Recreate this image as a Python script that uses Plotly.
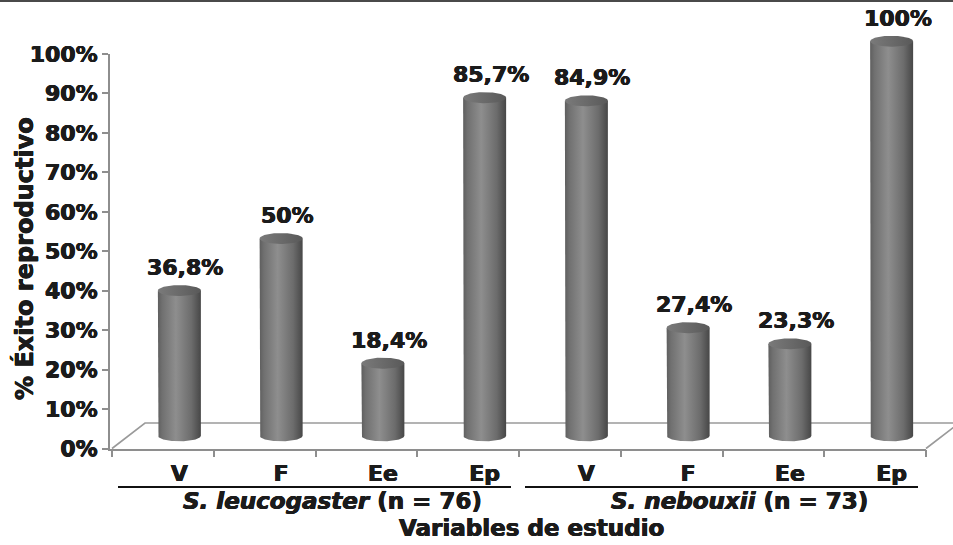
import numpy as np
import plotly.graph_objects as go

# ---- data ----
categories = ["V", "F", "Ee", "Ep", "V", "F", "Ee", "Ep"]
values = [36.8, 50, 18.4, 85.7, 84.9, 27.4, 23.3, 100]
value_labels = ["36,8%", "50%", "18,4%", "85,7%", "84,9%", "27,4%", "23,3%", "100%"]
groups = ["<i>S. leucogaster</i> (n = 76)", "<i>S. nebouxii</i> (n = 73)"]
group_sizes = [4, 4]
y_ticks = list(range(0, 101, 10))
y_tick_labels = [f"{t}%" for t in y_ticks]
x_title = "Variables de estudio"
y_title = "% Éxito reproductivo"

# ---- page geometry (pixels) ----
W, H = 953, 545
PX_LEFT, PX_RIGHT = 112, 926      # front edge of the floor (category edges)
PY_ZERO, PY_TOP = 448.5, 54       # 0 % and 100 % on the front plane
Y_AXIS_PX = 110
DEPTH_X, DEPTH_Y = 33, 25.5       # floor depth (oblique projection)
BAR_R_PX, ELL_PX = 21.5, 5.5      # cylinder radius, ellipse half-height

n = len(categories)
ppc = (PX_RIGHT - PX_LEFT) / n          # pixels per category
ppv = (PY_ZERO - PY_TOP) / 100.0        # pixels per percent

dx, dy = DEPTH_X / ppc, DEPTH_Y / ppv
r, e = BAR_R_PX / ppc, ELL_PX / ppv

FONT = "DejaVu Sans"
INK = "#1b1b1b"
AXIS_GREY = "#8e8e8e"
# a hairline shadow on both sides thickens the strokes toward a black weight
HEAVY = f"0.45px 0 0 {INK}, -0.45px 0 0 {INK}, 0 0.3px 0 {INK}"


def heavy_font(size):
    return dict(family=FONT, size=size, color=INK, weight="bold", shadow=HEAVY)


fig = go.Figure()

# empty trace so the visible axis pair is laid out
fig.add_trace(go.Scatter(x=[], y=[], xaxis="x", yaxis="y", showlegend=False))

# floor (back and side edges; the front edge is the x axis line)
fig.add_trace(go.Scatter(
    x=[-0.5, -0.5 + dx, n - 0.5 + dx, n - 0.5],
    y=[0, dy, dy, 0],
    mode="lines", line=dict(color="#9a9a9a", width=1.6),
    xaxis="x2", yaxis="y2", hoverinfo="skip", showlegend=False,
))

body_scale = [[0, "#5e5e5e"], [0.1, "#707070"], [0.42, "#8e8e8e"],
              [0.78, "#6c6c6c"], [1, "#474747"]]
top_scale = [[0, "#7a7a7a"], [0.5, "#6a6a6a"], [1, "#595959"]]

t_low = np.linspace(np.pi, 2 * np.pi, 40)
t_all = np.linspace(0, 2 * np.pi, 80)
bar_centers = [i + dx / 2 for i in range(n)]
for i, v in enumerate(values):
    cx = bar_centers[i]
    base = dy / 2
    top = base + v
    bx = np.concatenate([[cx - r], cx + r * np.cos(t_low), [cx + r, cx - r]])
    by = np.concatenate([[top], base + e * np.sin(t_low), [top, top]])
    fig.add_trace(go.Scatter(
        x=bx, y=by, mode="lines", fill="toself",
        line=dict(width=0, color="rgba(0,0,0,0)"),
        fillgradient=dict(type="horizontal", colorscale=body_scale),
        xaxis="x2", yaxis="y2", hoverinfo="skip", showlegend=False,
    ))
    fig.add_trace(go.Scatter(
        x=cx + r * np.cos(t_all), y=top + e * np.sin(t_all),
        mode="lines", fill="toself",
        line=dict(width=0, color="rgba(0,0,0,0)"),
        fillgradient=dict(type="horizontal", colorscale=top_scale),
        xaxis="x2", yaxis="y2", hoverinfo="skip", showlegend=False,
    ))
    fig.add_annotation(
        x=cx, y=top + e, xref="x2", yref="y2", text=value_labels[i],
        showarrow=False, xanchor="center", yanchor="bottom", yshift=3, xshift=6,
        font=heavy_font(22),
    )

# group labels and their underlines
start = -0.5
for g, size in zip(groups, group_sizes):
    end = start + size
    fig.add_shape(type="line", xref="x2", yref="paper",
                  x0=start + 6 / ppc, x1=end - 8 / ppc,
                  y0=1 - 487 / H, y1=1 - 487 / H,
                  line=dict(color="#111111", width=2.2))
    fig.add_annotation(x=(start + end) / 2 + dx / 2, y=1 - 501 / H,
                       xref="x2", yref="paper", text=g, showarrow=False,
                       xanchor="center", yanchor="middle",
                       font=heavy_font(23))
    start = end

fig.add_annotation(x=531 / W, y=1 - 528 / H, xref="paper", yref="paper",
                   text=x_title, showarrow=False,
                   xanchor="center", yanchor="middle",
                   font=heavy_font(23))
fig.add_annotation(x=24 / W, y=1 - 259 / H, xref="paper", yref="paper",
                   text=y_title, showarrow=False, textangle=-90,
                   xanchor="center", yanchor="middle",
                   font=heavy_font(24))

# thin frame line along the top edge
fig.add_shape(type="line", xref="paper", yref="paper", x0=0, x1=1,
              y0=1 - 1 / H, y1=1 - 1 / H, line=dict(color="#4a4a4a", width=2))

x_lo = -0.5 - (PX_LEFT - Y_AXIS_PX) / ppc
fig.update_layout(
    width=W, height=H, margin=dict(l=0, r=0, t=0, b=0, pad=0),
    paper_bgcolor="white", plot_bgcolor="rgba(0,0,0,0)",
    showlegend=False,
    xaxis=dict(
        domain=[Y_AXIS_PX / W, PX_RIGHT / W], range=[x_lo, n - 0.5],
        anchor="y", automargin=False,
        tickvals=bar_centers, ticktext=categories, ticks="",
        ticklabelstandoff=4,
        minor=dict(ticks="outside", tick0=-0.5, dtick=1, ticklen=7,
                   tickwidth=1.6, tickcolor=AXIS_GREY),
        showline=True, linecolor=AXIS_GREY, linewidth=1.8,
        showgrid=False, zeroline=False, fixedrange=True,
        tickfont=heavy_font(22),
    ),
    yaxis=dict(
        domain=[1 - PY_ZERO / H, 1 - PY_TOP / H], range=[0, 100],
        anchor="x", automargin=False,
        tickvals=y_ticks, ticktext=y_tick_labels,
        ticks="outside", ticklen=6, tickwidth=1.6, tickcolor=AXIS_GREY,
        showline=True, linecolor=AXIS_GREY, linewidth=1.8,
        showgrid=False, zeroline=False, fixedrange=True,
        tickfont=heavy_font(22),
    ),
    xaxis2=dict(domain=[0, 1], anchor="y2", visible=False, fixedrange=True,
                automargin=False,
                range=[-0.5 - PX_LEFT / ppc, -0.5 + (W - PX_LEFT) / ppc]),
    yaxis2=dict(domain=[0, 1], anchor="x2", visible=False, fixedrange=True,
                automargin=False,
                range=[-(H - PY_ZERO) / ppv, PY_ZERO / ppv]),
)

fig.write_html("out.html")
